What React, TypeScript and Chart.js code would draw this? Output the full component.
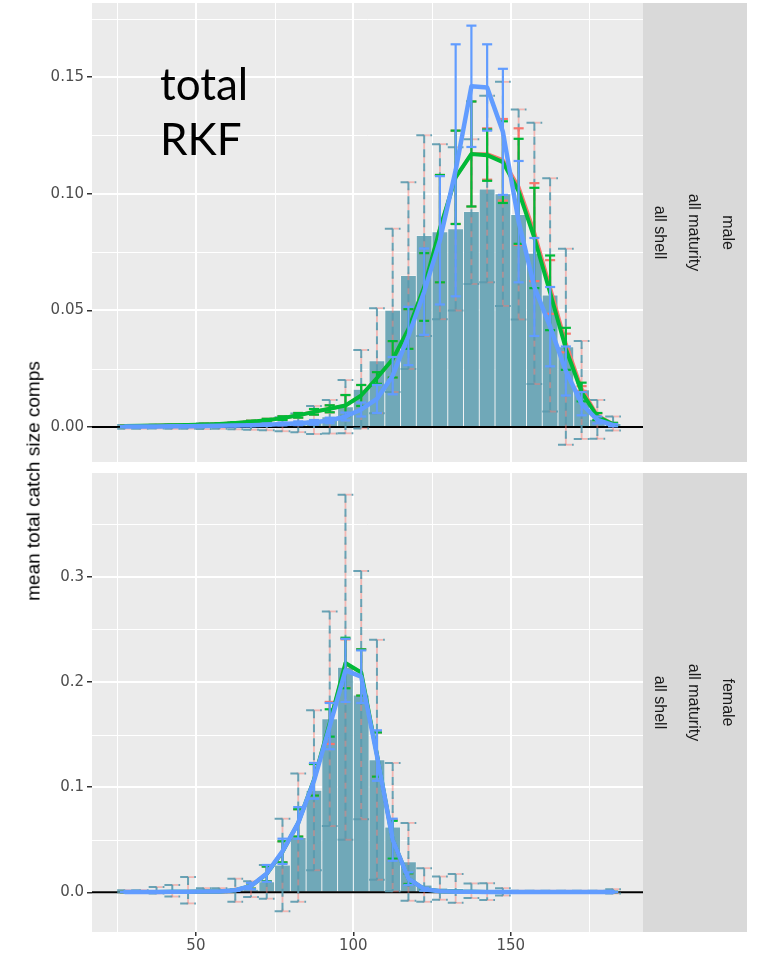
import React, { useEffect, useRef } from 'react';
import { Chart, registerables } from 'chart.js';

Chart.register(...registerables);

// ---------- data ----------
const sizeBins = [27.5, 32.5, 37.5, 42.5, 47.5, 52.5, 57.5, 62.5, 67.5, 72.5, 77.5, 82.5, 87.5, 92.5, 97.5, 102.5, 107.5, 112.5, 117.5, 122.5, 127.5, 132.5, 137.5, 142.5, 147.5, 152.5, 157.5, 162.5, 167.5, 172.5, 177.5, 182.5];

const xMajorTicks = [50, 100, 150];
const xMinorTicks = [25, 75, 125, 175];
const maleYTicks = [0, 0.05, 0.1, 0.15];
const maleYMinor = [0.025, 0.075, 0.125, 0.175];
const femaleYTicks = [0, 0.1, 0.2, 0.3];
const femaleYMinor = [0.05, 0.15, 0.25, 0.35];
const maleStrip = ['male', 'all maturity', 'all shell'];
const femaleStrip = ['female', 'all maturity', 'all shell'];
const noteLines = ['total', 'RKF'];
const yTitle = 'mean total catch size comps';

// male (top panel)
const maleObs = [0.0001, 0.0001, 0.0002, 0.0002, 0.0003, 0.0003, 0.0004, 0.0005, 0.0006, 0.0008, 0.0012, 0.0018, 0.0030, 0.0044, 0.0087, 0.0162, 0.0284, 0.0500, 0.0649, 0.0820, 0.0837, 0.0849, 0.0923, 0.1020, 0.0999, 0.0911, 0.0744, 0.0566, 0.0344, 0.0159, 0.0033, 0.0015];
const maleObsErr = [0.0008, 0.0008, 0.0008, 0.0010, 0.0010, 0.0012, 0.0012, 0.0015, 0.0018, 0.0022, 0.0030, 0.0040, 0.0060, 0.0072, 0.0114, 0.0168, 0.0225, 0.0350, 0.0400, 0.0430, 0.0375, 0.0350, 0.0310, 0.0400, 0.0480, 0.0450, 0.0560, 0.0500, 0.0420, 0.0210, 0.0083, 0.0030];
const maleRed = [0.0004, 0.0005, 0.0006, 0.0007, 0.0009, 0.0011, 0.0013, 0.0017, 0.0022, 0.0029, 0.0038, 0.0050, 0.0065, 0.0078, 0.0092, 0.0135, 0.0210, 0.0290, 0.0420, 0.0600, 0.0850, 0.1070, 0.1170, 0.1170, 0.1145, 0.1030, 0.0835, 0.0600, 0.0360, 0.0165, 0.0050, 0.0013];
const maleRedErr = [0.0002, 0.0002, 0.0002, 0.0002, 0.0003, 0.0003, 0.0003, 0.0004, 0.0005, 0.0006, 0.0008, 0.0010, 0.0012, 0.0015, 0.0045, 0.0045, 0.0025, 0.0078, 0.0085, 0.0145, 0.0230, 0.0200, 0.0225, 0.0110, 0.0175, 0.0250, 0.0210, 0.0115, 0.0040, 0.0010, 0.0008, 0.0004];
const maleGreen = [0.0004, 0.0005, 0.0006, 0.0007, 0.0009, 0.0011, 0.0013, 0.0017, 0.0022, 0.0029, 0.0038, 0.0050, 0.0065, 0.0078, 0.0092, 0.0135, 0.0210, 0.0290, 0.0420, 0.0600, 0.0850, 0.1070, 0.1170, 0.1165, 0.1135, 0.1010, 0.0810, 0.0575, 0.0335, 0.0150, 0.0045, 0.0012];
const maleGreenErr = [0.0002, 0.0002, 0.0002, 0.0002, 0.0003, 0.0003, 0.0003, 0.0004, 0.0005, 0.0006, 0.0008, 0.0010, 0.0012, 0.0015, 0.0045, 0.0045, 0.0025, 0.0078, 0.0085, 0.0145, 0.0230, 0.0200, 0.0225, 0.0110, 0.0175, 0.0225, 0.0215, 0.0160, 0.0090, 0.0040, 0.0015, 0.0006];
const maleBlue = [0.0002, 0.0002, 0.0002, 0.0003, 0.0003, 0.0004, 0.0005, 0.0006, 0.0008, 0.0010, 0.0013, 0.0016, 0.0020, 0.0028, 0.0045, 0.0075, 0.0120, 0.0220, 0.0390, 0.0580, 0.0800, 0.1100, 0.1460, 0.1455, 0.1265, 0.0880, 0.0600, 0.0430, 0.0240, 0.0100, 0.0030, 0.0008];
const maleBlueErr = [0.0002, 0.0002, 0.0002, 0.0002, 0.0002, 0.0003, 0.0003, 0.0003, 0.0004, 0.0005, 0.0006, 0.0008, 0.0010, 0.0012, 0.0017, 0.0030, 0.0060, 0.0080, 0.0125, 0.0185, 0.0275, 0.0540, 0.0260, 0.0185, 0.0270, 0.0260, 0.0210, 0.0170, 0.0105, 0.0050, 0.0015, 0.0005];

// female (bottom panel)
const femaleObs = [0.0010, 0.0010, 0.0020, 0.0015, 0.0020, 0.0020, 0.0020, 0.0020, 0.0030, 0.0100, 0.0260, 0.0520, 0.0970, 0.1650, 0.2140, 0.1875, 0.1260, 0.0620, 0.0290, 0.0070, 0.0040, 0.0037, 0.0015, 0.0007, 0.0005, 0.0005, 0.0005, 0.0005, 0.0005, 0.0005, 0.0005, 0.0010];
const femaleObsErr = [0.0010, 0.0010, 0.0030, 0.0055, 0.0125, 0.0020, 0.0020, 0.0110, 0.0075, 0.0160, 0.0440, 0.0610, 0.0760, 0.1020, 0.1640, 0.1180, 0.1140, 0.0610, 0.0370, 0.0160, 0.0110, 0.0137, 0.0070, 0.0080, 0.0035, 0.0010, 0.0010, 0.0010, 0.0010, 0.0010, 0.0010, 0.0020];
const femaleRed = [0.0003, 0.0003, 0.0004, 0.0005, 0.0005, 0.0007, 0.0009, 0.0020, 0.0060, 0.0175, 0.0385, 0.0660, 0.1070, 0.1610, 0.2175, 0.2090, 0.1310, 0.0500, 0.0130, 0.0030, 0.0010, 0.0006, 0.0005, 0.0004, 0.0004, 0.0003, 0.0003, 0.0003, 0.0003, 0.0003, 0.0003, 0.0003];
const femaleRedErr = [0.0002, 0.0002, 0.0002, 0.0002, 0.0002, 0.0003, 0.0003, 0.0005, 0.0025, 0.0070, 0.0100, 0.0130, 0.0150, 0.0200, 0.0230, 0.0220, 0.0210, 0.0190, 0.0050, 0.0012, 0.0005, 0.0003, 0.0003, 0.0002, 0.0002, 0.0002, 0.0002, 0.0002, 0.0002, 0.0002, 0.0002, 0.0002];
const femaleGreen = [0.0003, 0.0003, 0.0004, 0.0005, 0.0005, 0.0007, 0.0009, 0.0020, 0.0060, 0.0175, 0.0385, 0.0660, 0.1070, 0.1610, 0.2180, 0.2090, 0.1310, 0.0500, 0.0130, 0.0030, 0.0010, 0.0006, 0.0005, 0.0004, 0.0004, 0.0003, 0.0003, 0.0003, 0.0003, 0.0003, 0.0003, 0.0003];
const femaleGreenErr = [0.0002, 0.0002, 0.0002, 0.0002, 0.0002, 0.0003, 0.0003, 0.0005, 0.0025, 0.0070, 0.0100, 0.0130, 0.0150, 0.0130, 0.0240, 0.0220, 0.0210, 0.0180, 0.0050, 0.0012, 0.0005, 0.0003, 0.0003, 0.0002, 0.0002, 0.0002, 0.0002, 0.0002, 0.0002, 0.0002, 0.0002, 0.0002];
const femaleBlue = [0.0003, 0.0003, 0.0004, 0.0005, 0.0005, 0.0007, 0.0009, 0.0020, 0.0060, 0.0180, 0.0390, 0.0660, 0.1060, 0.1580, 0.2110, 0.2050, 0.1300, 0.0500, 0.0130, 0.0030, 0.0010, 0.0006, 0.0005, 0.0004, 0.0004, 0.0003, 0.0003, 0.0003, 0.0003, 0.0003, 0.0003, 0.0003];
const femaleBlueErr = [0.0002, 0.0002, 0.0002, 0.0002, 0.0002, 0.0003, 0.0003, 0.0006, 0.0030, 0.0080, 0.0120, 0.0150, 0.0170, 0.0220, 0.0300, 0.0250, 0.0240, 0.0200, 0.0060, 0.0015, 0.0006, 0.0003, 0.0003, 0.0002, 0.0002, 0.0002, 0.0002, 0.0002, 0.0002, 0.0002, 0.0002, 0.0002];

// ---------- style ----------
const RED = '#F8766D';
const GREEN = '#00BA38';
const BLUE = '#619CFF';
const BAR = '#70A8B8';
const DASH = '#5A9AAE';
const TICK_FONT = "'DejaVu Sans', sans-serif";
const TEXT_FONT = "'Liberation Sans', Arial, sans-serif";

type PanelCfg = {
  obs: number[]; obsErr: number[];
  red: number[]; redErr: number[];
  green: number[]; greenErr: number[];
  blue: number[]; blueErr: number[];
  yMin: number; yMax: number; yTicks: number[]; yMinor: number[]; digits: number;
  strip: string[]; showX: boolean; padTop: number; padBottom: number; note?: string[];
};

function drawErrorBars(chart: any, vals: number[], hw: number[], color: string, lw: number, capHalf: number, dash?: number[], dashOffset = 0, alpha = 1) {
  const ctx = chart.ctx;
  const xs = chart.scales.x;
  const ys = chart.scales.y;
  const a = chart.chartArea;
  ctx.save();
  ctx.beginPath();
  ctx.rect(a.left, a.top, a.right - a.left, a.bottom - a.top);
  ctx.clip();
  ctx.strokeStyle = color;
  ctx.globalAlpha = alpha;
  ctx.lineWidth = lw;
  ctx.lineCap = 'butt';
  if (dash) { ctx.setLineDash(dash); ctx.lineDashOffset = dashOffset; }
  sizeBins.forEach((b, i) => {
    const x = xs.getPixelForValue(b);
    const x0 = xs.getPixelForValue(b - capHalf);
    const x1 = xs.getPixelForValue(b + capHalf);
    const yt = ys.getPixelForValue(vals[i] + hw[i]);
    const yb = ys.getPixelForValue(vals[i] - hw[i]);
    ctx.beginPath(); ctx.moveTo(x0, yt); ctx.lineTo(x1, yt); ctx.stroke();
    ctx.beginPath(); ctx.moveTo(x, yt); ctx.lineTo(x, yb); ctx.stroke();
    ctx.beginPath(); ctx.moveTo(x0, yb); ctx.lineTo(x1, yb); ctx.stroke();
  });
  ctx.restore();
}

function buildConfig(p: PanelCfg): any {
  const pts = (arr: number[]) => sizeBins.map((b, i) => ({ x: b, y: arr[i] }));
  const lineDs = (label: string, arr: number[], err: number[], color: string, width: number, order: number) => ({
    type: 'line', label, data: pts(arr), borderColor: color, backgroundColor: color, borderWidth: width,
    pointRadius: 0, tension: 0, order, borderJoinStyle: 'round', borderCapStyle: 'round',
    errVals: arr, errHw: err, errColor: color,
  });

  const panelPlugin = {
    id: 'panelDeco',
    beforeDatasetsDraw(chart: any) {
      const ctx = chart.ctx;
      const a = chart.chartArea;
      const xs = chart.scales.x;
      const ys = chart.scales.y;
      ctx.save();
      ctx.fillStyle = '#EBEBEB';
      ctx.fillRect(a.left, a.top, a.right - a.left, a.bottom - a.top);
      ctx.strokeStyle = '#FFFFFF';
      ctx.lineWidth = 1;
      xMinorTicks.forEach(v => { const x = Math.round(xs.getPixelForValue(v)) + 0.5; ctx.beginPath(); ctx.moveTo(x, a.top); ctx.lineTo(x, a.bottom); ctx.stroke(); });
      p.yMinor.forEach(v => { const y = Math.round(ys.getPixelForValue(v)) + 0.5; if (y < a.top) return; ctx.beginPath(); ctx.moveTo(a.left, y); ctx.lineTo(a.right, y); ctx.stroke(); });
      ctx.lineWidth = 2;
      xMajorTicks.forEach(v => { const x = Math.round(xs.getPixelForValue(v)); ctx.beginPath(); ctx.moveTo(x, a.top); ctx.lineTo(x, a.bottom); ctx.stroke(); });
      p.yTicks.forEach(v => { const y = Math.round(ys.getPixelForValue(v)); ctx.beginPath(); ctx.moveTo(a.left, y); ctx.lineTo(a.right, y); ctx.stroke(); });
      ctx.restore();
    },
    beforeDatasetDraw(chart: any, args: any) {
      const ds = chart.data.datasets[args.index];
      if (ds.errVals) drawErrorBars(chart, ds.errVals, ds.errHw, ds.errColor, 2.2, 1.6);
    },
    afterDatasetDraw(chart: any, args: any) {
      const ds = chart.data.datasets[args.index];
      if (ds.type === 'line') return;
      const ctx = chart.ctx;
      const a = chart.chartArea;
      const y0 = chart.scales.y.getPixelForValue(0);
      ctx.save();
      ctx.strokeStyle = '#000000';
      ctx.lineWidth = 2;
      ctx.beginPath(); ctx.moveTo(a.left, y0); ctx.lineTo(a.right, y0); ctx.stroke();
      ctx.restore();
      drawErrorBars(chart, p.obs, p.obsErr, RED, 1.8, 2.5, [8, 6], 8, 0.45);
      drawErrorBars(chart, p.obs, p.obsErr, DASH, 2, 2.5, [8, 6], 0, 0.9);
    },
    afterDraw(chart: any) {
      const ctx = chart.ctx;
      const a = chart.chartArea;
      ctx.save();
      ctx.fillStyle = '#D9D9D9';
      ctx.fillRect(643, a.top, 104, a.bottom - a.top);
      ctx.fillStyle = '#1A1A1A';
      ctx.font = `16px ${TEXT_FONT}`;
      ctx.textAlign = 'center';
      ctx.textBaseline = 'middle';
      const yc = (a.top + a.bottom) / 2;
      p.strip.forEach((line, i) => {
        ctx.save();
        ctx.translate(727 - i * 34, yc);
        ctx.rotate(Math.PI / 2);
        ctx.fillText(line, 0, 0);
        ctx.restore();
      });
      if (p.note) {
        ctx.fillStyle = '#000000';
        ctx.font = "44px Lato, 'Open Sans', sans-serif";
        ctx.textAlign = 'left';
        ctx.textBaseline = 'alphabetic';
        ctx.fillText(p.note[0], 160, 100);
        ctx.fillText(p.note[1], 160, 155);
      }
      ctx.restore();
    },
  };

  return {
    type: 'bar',
    data: {
      datasets: [
        {
          type: 'bar', label: 'observed', data: pts(p.obs), backgroundColor: BAR,
          borderColor: 'rgba(255,255,255,0.5)', borderWidth: 0.8, barPercentage: 1, categoryPercentage: 1, order: 10,
        },
        lineDs('red', p.red, p.redErr, RED, 3.5, 3),
        lineDs('green', p.green, p.greenErr, GREEN, 4, 2),
        lineDs('blue', p.blue, p.blueErr, BLUE, 4.5, 1),
      ],
    },
    options: {
      animation: false,
      responsive: false,
      maintainAspectRatio: false,
      layout: { padding: { left: 0, right: 118, top: p.padTop, bottom: p.padBottom } },
      plugins: { legend: { display: false }, tooltip: { enabled: false } },
      scales: {
        x: {
          type: 'linear', min: 17, max: 192, offset: false,
          border: { display: false },
          grid: { display: p.showX, offset: false, drawOnChartArea: false, drawTicks: true, tickLength: 4, color: '#333333', lineWidth: 1.5 },
          ticks: { display: p.showX, color: '#4D4D4D', font: { family: TICK_FONT, size: 15 }, padding: 1, maxRotation: 0 },
          afterBuildTicks: (s: any) => { s.ticks = xMajorTicks.map(v => ({ value: v })); },
          afterFit: (s: any) => { s.height = p.showX ? 31 : 0; s.paddingLeft = 0; s.paddingRight = 0; s.paddingTop = 0; s.paddingBottom = 0; },
        },
        y: {
          type: 'linear', min: p.yMin, max: p.yMax,
          border: { display: false },
          grid: { display: true, offset: false, drawOnChartArea: false, drawTicks: true, tickLength: 5, color: '#333333', lineWidth: 1.5 },
          ticks: { color: '#4D4D4D', font: { family: TICK_FONT, size: 15 }, padding: 3, callback: (v: any) => Number(v).toFixed(p.digits) },
          afterBuildTicks: (s: any) => { s.ticks = p.yTicks.map(v => ({ value: v })); },
          afterFit: (s: any) => { s.width = 92; s.paddingTop = 0; s.paddingBottom = 0; s.paddingLeft = 0; s.paddingRight = 0; },
        },
      },
    },
    plugins: [panelPlugin],
  };
}

const maleCfg: PanelCfg = {
  obs: maleObs, obsErr: maleObsErr, red: maleRed, redErr: maleRedErr, green: maleGreen, greenErr: maleGreenErr,
  blue: maleBlue, blueErr: maleBlueErr, yMin: -0.015, yMax: 0.1817, yTicks: maleYTicks, yMinor: maleYMinor, digits: 2,
  strip: maleStrip, showX: false, padTop: 3, padBottom: 4, note: noteLines,
};
const femaleCfg: PanelCfg = {
  obs: femaleObs, obsErr: femaleObsErr, red: femaleRed, redErr: femaleRedErr, green: femaleGreen, greenErr: femaleGreenErr,
  blue: femaleBlue, blueErr: femaleBlueErr, yMin: -0.0377, yMax: 0.3986, yTicks: femaleYTicks, yMinor: femaleYMinor, digits: 1,
  strip: femaleStrip, showX: true, padTop: 7, padBottom: 0,
};

export default function App() {
  const topRef = useRef<HTMLCanvasElement>(null);
  const botRef = useRef<HTMLCanvasElement>(null);
  useEffect(() => {
    const c1 = new Chart(topRef.current as HTMLCanvasElement, buildConfig(maleCfg));
    const c2 = new Chart(botRef.current as HTMLCanvasElement, buildConfig(femaleCfg));
    return () => { c1.destroy(); c2.destroy(); };
  }, []);
  return (
    <div style={{ position: 'absolute', left: 0, top: 0, width: 761, height: 963, background: '#FFFFFF', overflow: 'hidden' }}>
      <canvas ref={topRef} width={761} height={466} style={{ position: 'absolute', left: 0, top: 0, width: 761, height: 466 }} />
      <canvas ref={botRef} width={761} height={497} style={{ position: 'absolute', left: 0, top: 466, width: 761, height: 497 }} />
      <div style={{
        position: 'absolute', left: 33, top: 481, transform: 'translate(-50%, -50%) rotate(-90deg)',
        whiteSpace: 'nowrap', fontFamily: TEXT_FONT, fontSize: 19, color: '#000000', lineHeight: 1,
      }}>{yTitle}</div>
    </div>
  );
}
